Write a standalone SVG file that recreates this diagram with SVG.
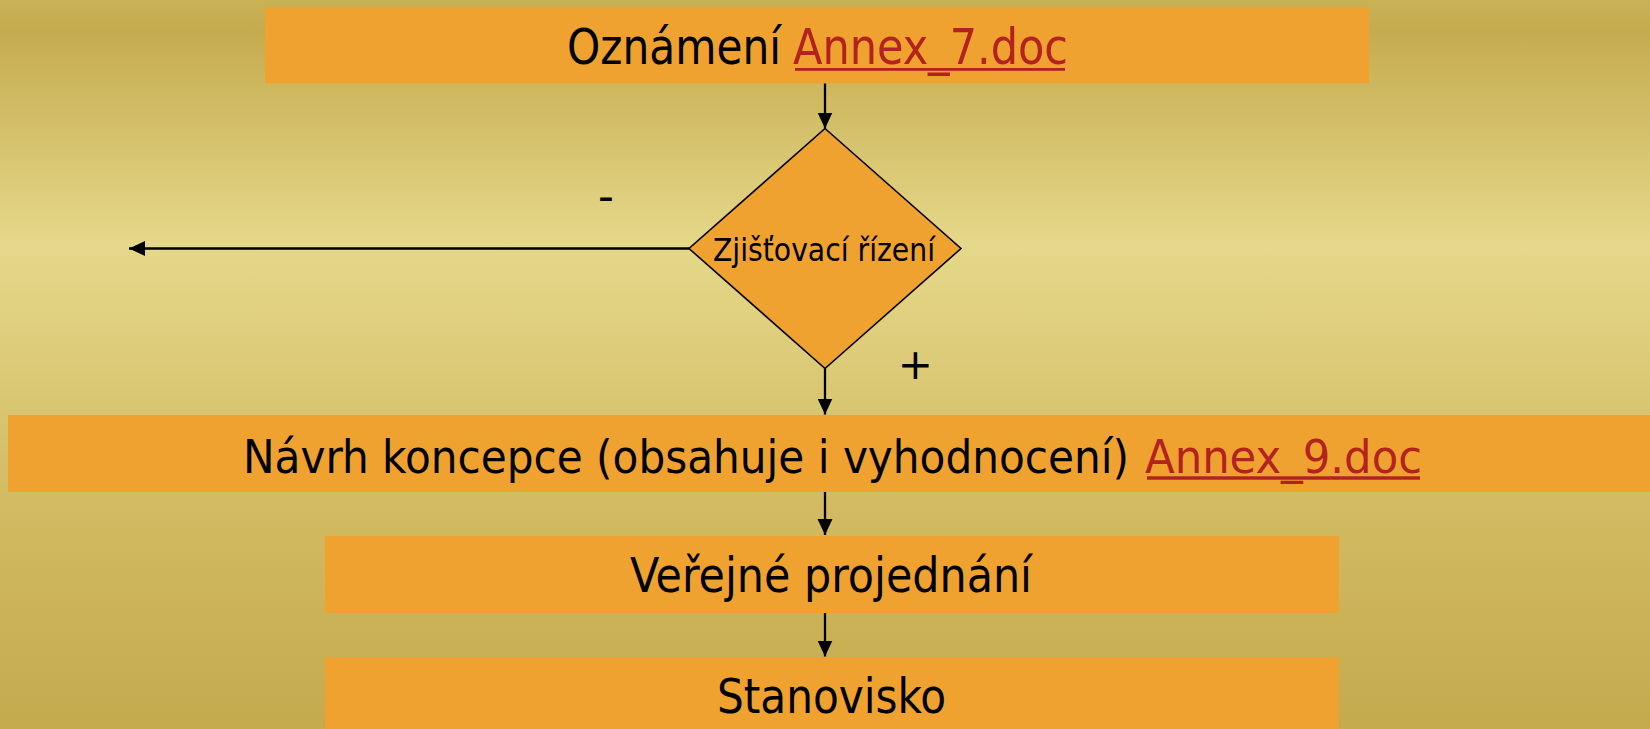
<svg xmlns="http://www.w3.org/2000/svg" width="1650" height="729" viewBox="0 0 1650 729">
  <style>
    .box { fill: #EFA22F; }
    .dia { fill: #EFA22F; stroke: #000; stroke-width: 1.6; }
    .t { font-family: "DejaVu Sans Condensed", "DejaVu Sans", sans-serif; fill: #000; }
    .link { fill: #B3221F; }
    .ul { fill: #B3221F; }
    .conn { stroke: #000; stroke-width: 2.3; fill: none; }
    .sym { font-family: "DejaVu Sans", sans-serif; fill: #000; text-anchor: middle; }
  </style>
  <defs>
    <linearGradient id="bg" x1="0" y1="0" x2="0" y2="1">
      <stop offset="0" stop-color="#C9B256"/>
      <stop offset="0.04" stop-color="#C5AB4E"/>
      <stop offset="0.335" stop-color="#E5D88A"/>
      <stop offset="0.7" stop-color="#D1BA61"/>
      <stop offset="1" stop-color="#C4AA4D"/>
    </linearGradient>
    <marker id="ah" viewBox="0 0 16 16" refX="16" refY="8" markerWidth="16" markerHeight="16" markerUnits="userSpaceOnUse" orient="auto">
      <path d="M0,0.5 L16,8 L0,15.5 z" fill="#000"/>
    </marker>
  </defs>

  <rect x="0" y="0" width="1650" height="729" fill="url(#bg)"/>

  <g id="n-oznameni">
    <rect class="box" x="265" y="7.5" width="1104" height="76"/>
    <text class="t" y="64" font-size="49"><tspan x="567" textLength="214" lengthAdjust="spacingAndGlyphs">Oznámení</tspan><tspan class="link" x="793" textLength="275" lengthAdjust="spacingAndGlyphs">Annex_7.doc</tspan></text>
    <rect class="ul" x="795" y="68" width="270" height="2.8"/>
  </g>

  <g id="n-zjistovaci">
    <polygon class="dia" points="825,128.5 961,248.5 825,368.5 689,248.5"/>
    <text class="t" x="713" y="260.5" font-size="32" textLength="222" lengthAdjust="spacingAndGlyphs">Zjišťovací řízení</text>
  </g>

  <g id="n-navrh">
    <rect class="box" x="8" y="415" width="1642" height="77"/>
    <text class="t" y="473" font-size="47"><tspan x="243" textLength="886" lengthAdjust="spacingAndGlyphs">Návrh koncepce (obsahuje i vyhodnocení)</tspan><tspan class="link" x="1145" textLength="277" lengthAdjust="spacingAndGlyphs">Annex_9.doc</tspan></text>
    <rect class="ul" x="1147" y="476.3" width="273" height="3.4"/>
  </g>

  <g id="n-verejne">
    <rect class="box" x="325" y="536" width="1014" height="77"/>
    <text class="t" x="630" y="592" font-size="48" textLength="402" lengthAdjust="spacingAndGlyphs">Veřejné projednání</text>
  </g>

  <g id="n-stanovisko">
    <rect class="box" x="325" y="657.3" width="1014" height="72"/>
    <text class="t" x="717" y="713.3" font-size="48" textLength="229" lengthAdjust="spacingAndGlyphs">Stanovisko</text>
  </g>

  <g id="connectors">
    <line class="conn" x1="825" y1="83.5" x2="825" y2="128.5" marker-end="url(#ah)"/>
    <line class="conn" x1="689" y1="248.5" x2="129" y2="248.5" stroke-width="3" marker-end="url(#ah)"/>
    <line class="conn" x1="825" y1="368.5" x2="825" y2="414.5" marker-end="url(#ah)"/>
    <line class="conn" x1="825" y1="492" x2="825" y2="535" marker-end="url(#ah)"/>
    <line class="conn" x1="825" y1="613" x2="825" y2="656.5" marker-end="url(#ah)"/>
    <text class="sym" x="606" y="211" font-size="44">-</text>
    <text class="sym" x="915.3" y="379" font-size="42">+</text>
  </g>
</svg>
